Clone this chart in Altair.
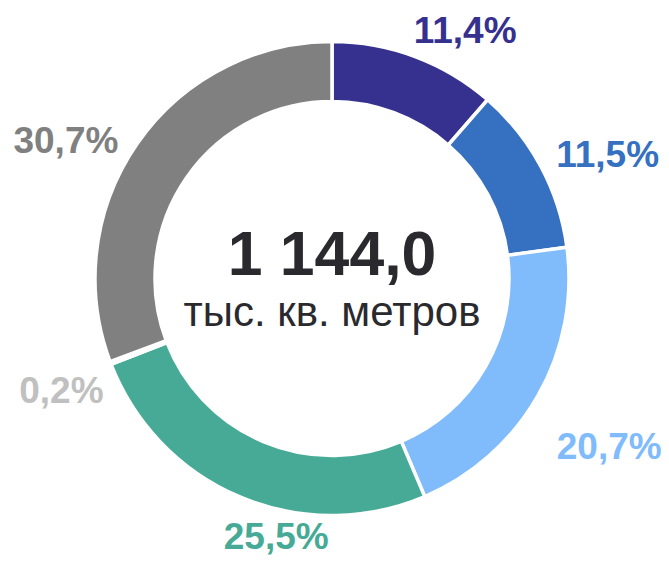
import altair as alt
import pandas as pd
import math

# Data
labels = ["11,4%", "11,5%", "20,7%", "25,5%", "0,2%", "30,7%"]
values = [11.4, 11.5, 20.7, 25.5, 0.2, 30.7]
colors = ["#36308F", "#3570C1", "#80BCFC", "#46AA96", "#C0C0C0", "#808080"]
total_value = "1 144,0"
total_unit = "тыс. кв. метров"

W, H = 648, 541
FONT = "Liberation Sans"

df = pd.DataFrame({"label": labels, "value": values, "order": list(range(len(labels)))})
cum = df["value"].cumsum()
df["mid"] = cum - df["value"] / 2

color_scale = alt.Scale(domain=labels, range=colors)
theta_scale = alt.Scale(domain=[0, 100], range=[0, 2 * math.pi])

base = alt.Chart(df)

ring = base.mark_arc(outerRadius=237, innerRadius=177, stroke="white", strokeWidth=3.5).encode(
    theta=alt.Theta("value:Q", stack=True, scale=theta_scale),
    color=alt.Color("label:N", scale=color_scale, legend=None),
    order=alt.Order("order:Q"),
)

# per-label offsets (styling) relative to the anchor at the slice's mid-angle
label_offsets = {
    "11,4%": (35, 27),
    "11,5%": (29, 21),
    "20,7%": (34, 42),
    "25,5%": (53, 12.5),
    "0,2%": (-9, 25),
    "30,7%": (-36, 34.5),
}

layers = [ring]
for lab in labels:
    dx, dy = label_offsets[lab]
    layers.append(
        base.transform_filter(alt.datum.label == lab)
        .mark_text(radius=280, font=FONT, fontSize=37, fontWeight="bold",
                   align="center", baseline="alphabetic", dx=dx, dy=dy)
        .encode(
            theta=alt.Theta("mid:Q", scale=theta_scale),
            text="label:N",
            color=alt.Color("label:N", scale=color_scale, legend=None),
        )
    )

center_big = alt.Chart(pd.DataFrame({"t": [total_value]})).mark_text(
    font=FONT, fontSize=62.5, fontWeight="bold", color="#2A2A2E",
    align="center", baseline="alphabetic", dy=-3.5
).encode(text="t:N", x=alt.value(W / 2), y=alt.value(H / 2))

center_small = alt.Chart(pd.DataFrame({"t": [total_unit]})).mark_text(
    font=FONT, fontSize=42, color="#2A2A2E",
    align="center", baseline="alphabetic", dy=47
).encode(text="t:N", x=alt.value(W / 2), y=alt.value(H / 2))

layers += [center_big, center_small]

chart = alt.layer(*layers).properties(
    width=W, height=H,
    autosize=alt.AutoSizeParams(type="none"),
    padding={"left": 0, "top": 0, "right": 5, "bottom": 9},
).configure_view(stroke=None)

chart.save("out.html", embed_options={"renderer": "svg", "actions": False})
